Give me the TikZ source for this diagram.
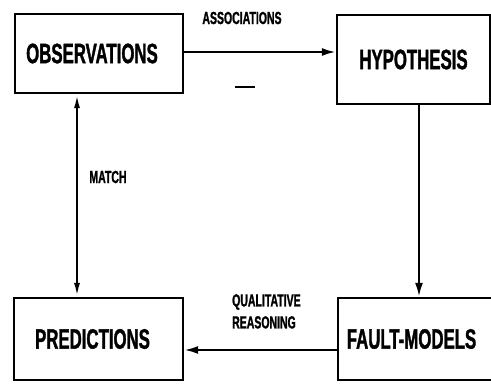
\documentclass[tikz,border=0pt]{standalone}
\usepackage{fontspec}
\setmainfont{Liberation Sans}
\newfontfamily\condfont[FakeStretch=0.6,FakeBold=1.2]{Liberation Sans}
\usetikzlibrary{arrows.meta}
\begin{document}
\begin{tikzpicture}[x=1pt,y=-1pt,
  box/.style={draw,line width=2.4pt,rectangle,inner sep=0pt,
    font=\condfont\bfseries\fontsize{28}{30}\selectfont},
  lbl/.style={font=\condfont\bfseries\fontsize{17.5}{22}\selectfont,inner sep=0pt},
  conn/.style={line width=2.2pt,-{Latex[length=14pt,width=8pt]}},
  conn2/.style={line width=2.2pt,{Latex[length=14pt,width=6pt]}-{Latex[length=14pt,width=6pt]}}]
\useasboundingbox (0,0) rectangle (491,387);
\node[box,minimum width=168pt,minimum height=79pt] (obs) at (99,53.5) {\hspace*{-14pt}\raisebox{-4pt}{OBSERVATIONS}};
\node[box,minimum width=153pt,minimum height=89pt] (hyp) at (413.5,59.5) {HYPOTHESIS};
\node[box,minimum width=169pt,minimum height=82pt] (pred) at (98.5,339) {\hspace*{-12pt}\raisebox{-3pt}{PREDICTIONS}};
\node[box,minimum width=156pt,minimum height=82pt] (fm) at (416,339) {\hspace*{-9pt}\raisebox{-3pt}{FAULT-MODELS}};
\node[lbl] (assoc) at (242,18) {ASSOCIATIONS};
\node[lbl] (match) at (108,177) {MATCH};
\node[lbl,align=left,anchor=north west] (qual) at (232,294) {QUALITATIVE\\REASONING};
\coordinate (d1) at (235,87);
\coordinate (d2) at (255,87);
\draw[line width=1.6pt] (d1) -- (d2);
\draw[conn] (obs.east |- 0,52) -- (hyp.west |- 0,52);
\draw[conn] (hyp.south -| 419,0) -- (fm.north -| 419,0);
\draw[conn] (fm.west |- 0,350) -- (pred.east |- 0,350);
\draw[conn2] (obs.south -| 77,0) -- (pred.north -| 77,0);
\end{tikzpicture}
\end{document}
